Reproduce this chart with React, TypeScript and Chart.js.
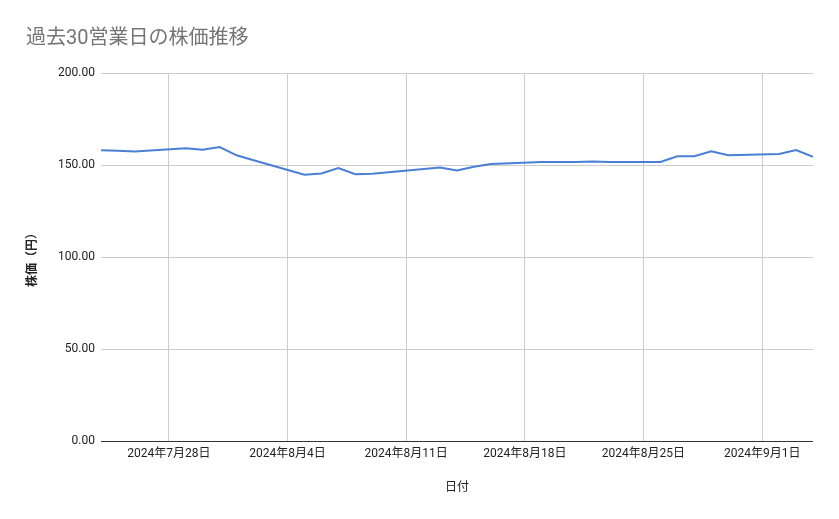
import React, { useEffect, useRef } from "react";
import { Chart, registerables } from "chart.js";

Chart.register(...registerables);

const dates: string[] = [
  "2024-07-24", "2024-07-25", "2024-07-26", "2024-07-29", "2024-07-30",
  "2024-07-31", "2024-08-01", "2024-08-02", "2024-08-05", "2024-08-06",
  "2024-08-07", "2024-08-08", "2024-08-09", "2024-08-13", "2024-08-14",
  "2024-08-15", "2024-08-16", "2024-08-19", "2024-08-20", "2024-08-21",
  "2024-08-22", "2024-08-23", "2024-08-26", "2024-08-27", "2024-08-28",
  "2024-08-29", "2024-08-30", "2024-09-02", "2024-09-03", "2024-09-04",
];

const prices: number[] = [
  158.0, 157.7, 157.4, 159.1, 158.3,
  159.8, 155.3, 152.6, 144.7, 145.4,
  148.4, 145.0, 145.3, 148.6, 147.1,
  149.1, 150.6, 151.7, 151.6, 151.6,
  151.9, 151.6, 151.7, 154.8, 154.8,
  157.5, 155.3, 156.0, 158.2, 154.4,
];

const xTickDates: string[] = [
  "2024-07-28", "2024-08-04", "2024-08-11", "2024-08-18", "2024-08-25", "2024-09-01",
];

const yTicks: number[] = [0, 50, 100, 150, 200];

const title = "過去30営業日の株価推移";
const xTitle = "日付";
const yTitle = "株価（円）";

const DAY = 86400000;
const toDay = (s: string) => {
  const [y, m, d] = s.split("-").map(Number);
  return Math.round(Date.UTC(y, m - 1, d) / DAY);
};
const fmt = (day: number) => {
  const dt = new Date(day * DAY);
  return `${dt.getUTCFullYear()}年${dt.getUTCMonth() + 1}月${dt.getUTCDate()}日`;
};

const FONT = "Roboto, 'Noto Sans CJK JP', sans-serif";

export default function App() {
  const ref = useRef<HTMLCanvasElement | null>(null);

  useEffect(() => {
    document.body.style.margin = "0";
    const canvas = ref.current;
    if (!canvas) return;
    const points = dates.map((d, i) => ({ x: toDay(d), y: prices[i] }));
    const xMin = toDay(dates[0]);
    const xMax = toDay(dates[dates.length - 1]);
    const tickDays = xTickDates.map(toDay);

    const chart = new Chart(canvas, {
      type: "line",
      data: {
        datasets: [
          {
            label: yTitle,
            data: points,
            borderColor: "#4a7fd6",
            backgroundColor: "#4a7fd6",
            borderWidth: 2,
            pointRadius: 0,
            tension: 0,
          },
        ],
      },
      options: {
        animation: false,
        responsive: false,
        layout: { padding: { left: 26, right: 26, top: 0, bottom: 24 } },
        plugins: {
          legend: { display: false },
          tooltip: { enabled: false },
          title: {
            display: true,
            text: title,
            align: "start",
            color: "#757575",
            font: { family: FONT, size: 20, weight: "normal" },
            padding: { top: 27, bottom: 22 },
          },
        },
        scales: {
          x: {
            type: "linear",
            min: xMin,
            max: xMax,
            afterBuildTicks: (scale: any) => {
              scale.ticks = tickDays.map((v) => ({ value: v }));
            },
            ticks: {
              callback: (v: any) => fmt(Number(v)),
              color: "#222",
              font: { family: FONT, size: 12 },
              padding: 6,
              maxRotation: 0,
              autoSkip: false,
            },
            grid: { color: "#cccccc", drawTicks: false, lineWidth: 1 },
            border: { display: false },
            title: {
              display: true,
              text: xTitle,
              color: "#222",
              font: { family: FONT, size: 12 },
              padding: { top: 13, bottom: 0 },
            },
          },
          y: {
            min: 0,
            max: 200,
            afterBuildTicks: (scale: any) => {
              scale.ticks = yTicks.map((v) => ({ value: v }));
            },
            afterFit: (scale: any) => {
              scale.width = 101 - 26;
            },
            ticks: {
              callback: (v: any) => Number(v).toFixed(2),
              color: "#222",
              font: { family: FONT, size: 12 },
              padding: 6,
            },
            grid: {
              drawTicks: false,
              color: (ctx: any) => (ctx.tick && ctx.tick.value === 0 ? "#333333" : "#cccccc"),
              lineWidth: 1,
            },
            border: { display: false },
            title: {
              display: true,
              text: yTitle,
              color: "#222",
              font: { family: FONT, size: 12, weight: "bold" },
              padding: { top: 0, bottom: 0 },
            },
          },
        },
      },
    });
    return () => chart.destroy();
  }, []);

  return (
    <div style={{ position: "absolute", left: 0, top: 0, width: 839, height: 519 }}>
      <canvas ref={ref} width={839} height={519} style={{ width: 839, height: 519 }} />
    </div>
  );
}
